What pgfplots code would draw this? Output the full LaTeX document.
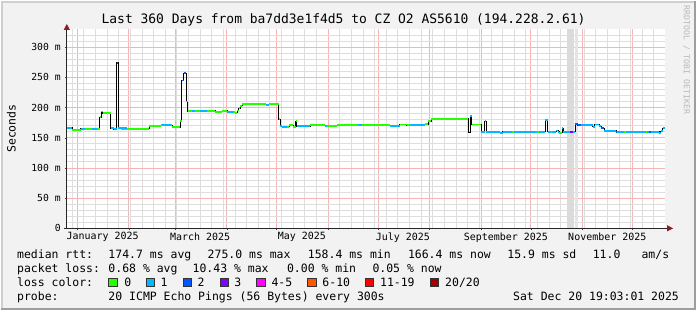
\documentclass[border=0pt]{standalone}
\usepackage{pgfplots}
\pgfplotsset{compat=1.18}
\usepackage{pgfplotstable}
\usepackage{fontspec}
\setmainfont{DejaVu Sans Mono}
\usetikzlibrary{arrows.meta}
\definecolor{bgc}{RGB}{242,242,242}
\definecolor{shadea}{RGB}{207,207,207}
\definecolor{shadeb}{RGB}{158,158,158}
\definecolor{mgrid}{RGB}{247,180,180}
\definecolor{lgrid}{RGB}{222,222,222}
\definecolor{arrowc}{RGB}{140,30,30}
\definecolor{lc0}{HTML}{26FF00}
\definecolor{lc1}{HTML}{00B8FF}
\definecolor{lc2}{HTML}{0059FF}
\definecolor{lc3}{HTML}{7E00FF}
\definecolor{lc4}{HTML}{FF00FF}
\definecolor{lc6}{HTML}{FF5500}
\definecolor{lc11}{HTML}{FF0000}
\definecolor{lc20}{HTML}{A10000}
\pgfplotstableread{
x y
-5.8 166.6
-2.8 162.8
2.2 165
13.6 184
14.6 193.5
15.4 191
20.2 166
22 164
23.8 274
24.6 166.6
26.2 165
43.2 169.4
50.2 170.4
57.2 167.8
62.2 177.6
63 244.6
64.2 257
65.8 210
66.6 194
78.2 194.5
83.2 193
87.4 194.5
90.2 192.5
95.2 191.5
96.2 195
97.3 199
98.2 203
99.2 205.5
113.8 203.5
115.2 205.5
121.2 180.4
122.2 169.4
123.2 168
127.6 170.5
130.2 168
131.6 177
132.2 169
140.2 170.5
149.2 170
156.2 171
164.2 171.6
188.2 170
194.2 172
198.2 171
209.2 172.7
211.2 177.6
213.2 181.5
235.3 158.4
236.5 185.9
237.4 172
243.2 160
245.2 177.6
246.2 160
254.2 158
256 160
281.8 179.3
283.2 160
288.2 162
289.3 160
290.2 158
291.8 165.6
292.6 160
299.8 173.2
301.2 171
310.2 168
311.5 172
314.2 169
315.4 166
317.2 161.7
324.2 160
350.2 158
351.2 161
352.3 165.6
353.8 165.6
}\median
\begin{document}
\begin{tikzpicture}[x=1bp,y=1bp]
\fill[bgc] (0,0) rectangle (697,310);
\draw[shadea, line width=2bp] (1,0) -- (1,309) -- (697,309);
\draw[shadeb, line width=2bp] (0,1) -- (696,1) -- (696,310);
\begin{axis}[
  at={(66bp,82bp)}, anchor=south west,
  scale only axis, width=600bp, height=200bp,
  xmin=-6.2, xmax=353.8, ymin=0, ymax=330,
  axis x line=bottom, axis y line=left,
  axis line style={black!85, line width=0.8bp},
  x axis line style={-{Triangle[length=6bp,width=6bp,color=arrowc]}, shorten >=-8bp, shorten <=-3bp},
  y axis line style={-{Triangle[length=6bp,width=6bp,color=arrowc]}, shorten >=-5bp},
  axis background/.style={fill=white},
  grid=both,
  major grid style={draw=mgrid, line width=0.8bp},
  minor grid style={draw=lgrid, line width=0.8bp},
  xtick={0,31,59,90,120,151,181,212,243,273,304,334},
  xticklabels={,,,,,,,,,,,},
  minor xtick={-3,4,11,18,25,32,39,46,53,60,67,74,81,88,95,102,109,116,123,130,137,144,151,158,165,172,179,186,193,200,207,214,221,228,235,242,249,256,263,270,277,284,291,298,305,312,319,326,333,340,347},
  extra x ticks={15.3,74,135.3,196,258,319},
  extra x tick labels={January 2025,March 2025,May 2025,July 2025,September 2025,November 2025},
  extra x tick style={grid=none, major tick length=0pt},
  ytick={0,50,100,150,200,250,300},
  yticklabels={0,50 m,100 m,150 m,200 m,250 m,300 m},
  minor ytick={10,20,30,40,60,70,80,90,110,120,130,140,160,170,180,190,210,220,230,240,260,270,280,290,310,320},
  major tick length=2bp, minor tick length=0pt,
  tick align=outside,
  tick style={black!70},
  xticklabel style={font=\fontsize{10bp}{12bp}\selectfont, inner sep=1bp, yshift=-3bp},
  yticklabel style={font=\fontsize{9.75bp}{11bp}\selectfont, inner sep=1bp, xshift=-3bp},
]
\addplot[fill=gray!28, draw=none] coordinates {(294.5,330) (299.1,330)} \closedcycle;
\addplot[fill=gray!20, draw=none] coordinates {(299.7,330) (301.1,330)} \closedcycle;
\addplot[const plot, black, line width=0.8bp] table {\median};
\addplot[jump mark left, lc0, line width=1.8bp] table[restrict x to domain=-3:236] {\median};
\addplot[jump mark left, lc1, line width=1.8bp] table[restrict x to domain=243:354] {\median};
\addplot[lc0, line width=1.8bp, unbounded coords=jump] coordinates {
(237.4,172) (243.2,172) (243.2,nan)
(261.4,160) (262.6,160) (262.6,nan)
(277,160) (278.2,160) (278.2,nan)
(285.4,160) (286,160) (286,nan)
(290.2,158) (291.8,158) (291.8,nan)
(329.2,160) (330.4,160) (330.4,nan)
(342.2,160) (343.2,160)
};
\addplot[lc1, line width=1.8bp, unbounded coords=jump] coordinates {
(-5.8,166.6) (-2.8,166.6) (-2.8,nan)
(2.2,165) (4.5,165) (4.5,nan)
(9.2,165) (11.8,165) (11.8,nan)
(20.2,166) (22,166) (22,nan)
(22,164) (23.8,164) (23.8,nan)
(24.6,166.6) (30,166.6) (30,nan)
(51.2,170.4) (56.2,170.4) (56.2,nan)
(69.2,194) (71.2,194) (71.2,nan)
(74.2,194) (78.2,194) (78.2,nan)
(90.2,192.5) (94.2,192.5) (94.2,nan)
(113.8,203.5) (115.2,203.5) (115.2,nan)
(122.2,169.4) (123.2,169.4) (123.2,nan)
(123.2,168) (126,168) (126,nan)
(132.2,169) (140.2,169) (140.2,nan)
(149.2,170) (150.5,170) (150.5,nan)
(169,171.6) (171.2,171.6) (171.2,nan)
(188.2,170) (194.2,170) (194.2,nan)
(200.2,171) (209.2,171) (209.2,nan)
(236.5,185.9) (237.4,185.9)
};
\addplot[lc2, line width=1.8bp, unbounded coords=jump] coordinates {
(63,244.6) (64.2,244.6) (64.2,nan)
(64.2,257) (65.8,257) (65.8,nan)
(299.8,173.2) (301.2,173.2) (301.2,nan)
(301.2,171) (303.4,171) (303.4,nan)
(315.4,166) (317.2,166) (317.2,nan)
(324.2,160) (325,160) (325,nan)
(344.2,160) (345.2,160)
};
\addplot[lc3, line width=1.8bp, unbounded coords=jump] coordinates {
(23.8,274) (24.6,274) (24.6,nan)
(296.6,160) (298.2,160)
};
\end{axis}
% title and labels
\node[anchor=base west, inner sep=0, font=\fontsize{13bp}{15bp}\selectfont] at (100.7,287) {Last 360 Days from ba7dd3e1f4d5 to CZ O2 AS5610 (194.228.2.61)};
\node[rotate=90, inner sep=0, font=\fontsize{11.5bp}{13bp}\selectfont] at (10.5,182) {Seconds};
\node[rotate=-90, inner sep=0, text=black!28, font=\fontsize{8.2bp}{10bp}\selectfont] at (687.5,251) {RRDTOOL / TOBI OETIKER};
\begin{scope}[every node/.style={anchor=base west, inner sep=0, font=\fontsize{11.5bp}{13bp}\selectfont}]
\node at (16,52) {median rtt:};
\node at (107.6,52) {174.7 ms avg};
\node at (207.1,52) {275.0 ms max};
\node at (307.6,52) {158.4 ms min};
\node at (408,52) {166.4 ms now};
\node at (507.6,52) {15.9 ms sd};
\node at (593.3,52) {11.0};
\node at (642.2,52) {am/s};
\node at (16,38) {packet loss:};
\node at (107.6,38) {0.68 \% avg};
\node at (192,38) {10.43 \% max};
\node at (286.7,38) {0.00 \% min};
\node at (372.4,38) {0.05 \% now};
\node at (16,24) {loss color:};
\node at (123.6,24) {0};
\node at (160,24) {1};
\node at (196.9,24) {2};
\node at (233.8,24) {3};
\node at (271.1,24) {4-5};
\node at (322.2,24) {6-10};
\node at (380,24) {11-19};
\node at (445.3,24) {20/20};
\node at (16,10) {probe:};
\node at (107.6,10) {20 ICMP Echo Pings (56 Bytes) every 300s};
\node[anchor=base east] at (680,10) {Sat Dec 20 19:03:01 2025};
\end{scope}
\foreach \bx/\bc in {108/lc0,145.3/lc1,182.7/lc2,219.6/lc3,256.4/lc4,307.6/lc6,365.3/lc11,430.2/lc20}{
  \filldraw[fill=\bc, draw=black!80, line width=0.6bp] (\bx,23.5) rectangle ++(8.5,8);
}
\end{tikzpicture}
\end{document}
